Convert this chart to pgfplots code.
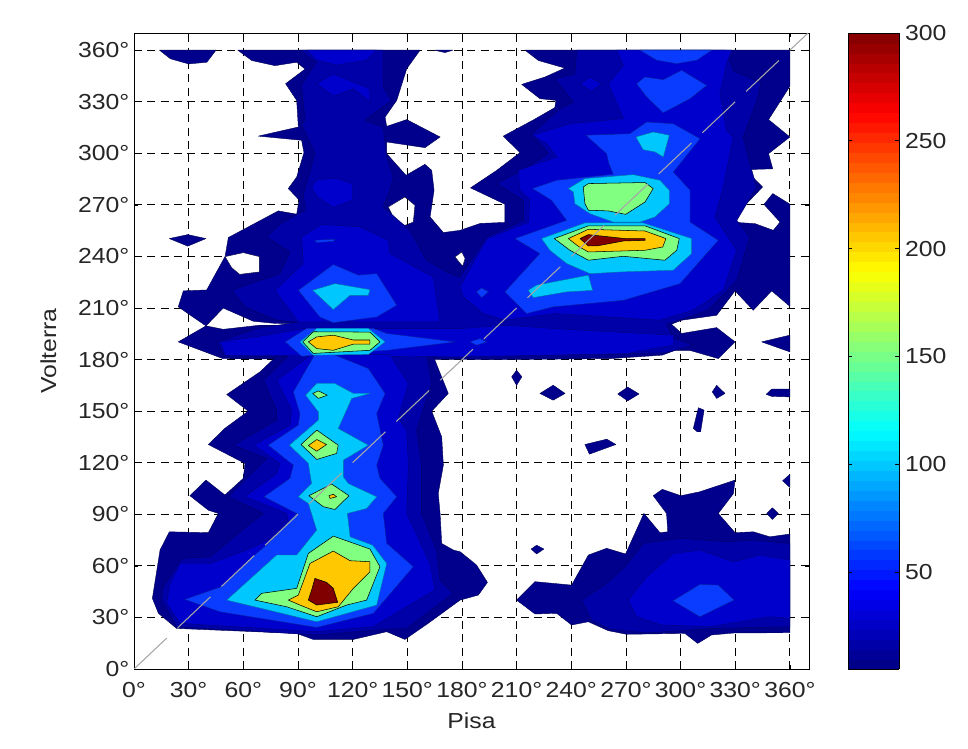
\documentclass[border=0pt]{standalone}
\usepackage{fontspec}
\setmainfont[FakeStretch=1.14]{Liberation Sans}
\usepackage{pgfplots}
\pgfplotsset{compat=1.18}
\definecolor{cA}{HTML}{00008C}
\definecolor{cB}{HTML}{0000A8}
\definecolor{cC}{HTML}{0000CC}
\definecolor{cD}{HTML}{0A3CFF}
\definecolor{cE}{HTML}{00C8FF}
\definecolor{cF}{HTML}{80FF80}
\definecolor{cG}{HTML}{FFC800}
\definecolor{cH}{HTML}{800000}
\pgfplotsset{
 lev/.style={fill=#1,draw=black,line width=0.4pt,line join=round},
 blv/.style={fill=#1,draw=black!40!#1,line width=0.3pt,line join=round},
}
\begin{document}
\begin{tikzpicture}
\path[use as bounding box] (-100.5pt,-60pt) rectangle (625.5pt,501.75pt);
\begin{axis}[
 at={(0pt,0pt)},anchor=south west,
 scale only axis,width=506.25pt,height=477pt,
 xmin=0,xmax=370.5,ymin=0,ymax=370,
 xtick={0,30,...,360},ytick={0,30,...,360},
 xticklabels={0°,30°,60°,90°,120°,150°,180°,210°,240°,270°,300°,330°,360°},
 yticklabels={0°,30°,60°,90°,120°,150°,180°,210°,240°,270°,300°,330°,360°},
 tick align=inside,major tick length=3pt,
 tick style={black,line width=0.5pt},
 grid=major,
 grid style={black,line width=0.6pt,dash pattern=on 6pt off 4pt},
 axis line style={line width=0.6pt},
 tick label style={font=\fontsize{16.3}{18}\selectfont,text=black!85},
 xticklabel style={yshift=-6.5pt},
 label style={font=\fontsize{16.3}{18}\selectfont,text=black!85},
 xlabel={Pisa},ylabel={Volterra},
 xlabel style={at={(axis description cs:0.5,-0.082)},anchor=center},
 ylabel style={at={(axis description cs:-0.127,0.5)},anchor=center},
 unbounded coords=jump,
 colormap/jet,point meta min=5,point meta max=300,
 colorbar,colorbar sampled,
 colorbar style={
  samples=65,
  at={(1.0578,0)},anchor=south west,
  scale only axis,width=38.25pt,height=477pt,
  ytick={50,100,150,200,250,300},
  tick pos=both,yticklabel pos=right,tick align=inside,major tick length=3pt,
  ymin=5,ymax=300,
  tick label style={font=\fontsize{16.3}{18}\selectfont,text=black!85},
  yticklabel style={/pgf/number format/assume math mode=true,xshift=1pt},
  axis line style={line width=0.6pt},
 },
]
% level 1
\addplot[blv=cA] coordinates {(14,360)(20,355)(30,352)(40,353)(45,360)} --cycle;
\addplot[blv=cA] coordinates {(165,360)(170.7,358.6)(175,360)} --cycle;
\addplot[blv=cA] coordinates {(19.4,250.4)(29.5,252.7)(39.5,250.4)(29.5,246)} --cycle;
\addplot[blv=cA] coordinates {(57,360)(64.6,354)(77.4,351)(89.3,353)(93.9,349)(83.2,340.5)(89.3,330.8)(90.2,315.3)(68.2,310)(92,307.6)(93.3,300.4)(89.3,286.2)(84.7,279.5)(90.6,272.9)(89.3,264.6)(79.2,266.5)(51.8,251)(50,240)(39.9,220.5)(27.1,220)(24.3,210.7)(39.5,199.6)(49,210)(55.4,207)(65.5,202.3)(78,201)(89.3,201.2)(90,200)(69,200)(49,197.6)(39.5,199.6)(24.3,190.3)(49,180.5)(200,180)(262,180.6)(290,182.6)(297,185.4)(305,185.4)(320.7,180.6)(329.9,190.3)(319.8,198.6)(300.6,195.2)(295,200.6)(300.6,202.9)(319.8,205.8)(329.9,220)(339.9,208.7)(350,220)(360,211)(360,270.4)(350.6,276.6)(345.8,270.3)(354.6,260)(350.9,255.2)(340.8,259.1)(327.5,260)(335.4,269.8)(345,280.4)(335.4,290.5)(350.6,291)(348.3,299.8)(360,309.5)(348.3,319.6)(360,339)(360,360)(214.6,360)(222,354)(236.5,349.6)(225.6,344.4)(212.8,340.1)(222.8,331.8)(231.6,330.8)(231,326.6)(219.5,319.6)(202.7,310)(211.9,300.4)(199,290)(184.7,279.9)(203.6,270.4)(203.6,259.8)(190,259.2)(179,255.2)(169.8,253.9)(162.5,263)(164.7,278.5)(163.4,290.1)(159.7,293.6)(149.3,287.2)(138.7,299.8)(138.7,306.6)(159.7,303.3)(168,309.5)(149.7,319.6)(138.7,315.7)(137.8,321.1)(144.2,330.8)(149.7,349.2)(157,360)} --cycle;
\addplot[blv=cA] coordinates {(344.5,190.3)(360,194.2)(360,184.5)} --cycle;
\addplot[blv=cA] coordinates {(78.3,182)(69.2,172.9)(50.9,159.7)(62.7,150)(49.9,140)(40.8,130.6)(60.9,119.6)(60,110.9)(49.9,101.2)(39.5,109.9)(30.7,100.8)(40.8,92.4)(46.3,90.5)(40.8,79.3)(19.4,79.8)(14.3,69.2)(10.1,41.1)(13.4,32.4)(23.4,23.6)(89.3,20.7)(98.4,17.2)(120.4,17.2)(138.7,21.7)(148.7,17.2)(161.5,26.6)(179,40.1)(189,43)(194,50.4)(188,60.5)(179,68.2)(175.3,69.2)(168.9,73)(168,90.5)(167,102.1)(169.8,118.6)(168.9,135)(163.4,150)(172.5,160.3)(164.3,182)} --cycle;
\addplot[blv=cA] coordinates {(210,40.1)(220.1,50.8)(240.2,48.8)(249.4,66.3)(259.4,70.2)(269.8,66.9)(279.9,90.5)(288.7,79.3)(293,79.8)(292.3,90.5)(285,100.8)(290,104.5)(300.2,100.8)(310.6,103.1)(329.9,109.9)(329,102)(320.7,90.5)(329.9,79.3)(340,79.8)(349,76.9)(360,78.5)(360,21.1)(329.9,21)(317,19.8)(309.4,14.9)(302.4,20.7)(270.4,20.2)(260.3,22.3)(249.4,27.5)(240.2,25.6)(232,32.4)(220.1,32)} --cycle;
\addplot[blv=cA] coordinates {(207.3,170)(210,173.8)(212.9,170)(210,165)} --cycle;
\addplot[blv=cA] coordinates {(222.8,160.3)(230.1,165.1)(236.6,160.3)(230.1,156.4)} --cycle;
\addplot[blv=cA] coordinates {(265.5,160)(271,164)(277.2,160)(271,156)} --cycle;
\addplot[blv=cA] coordinates {(317.4,161.2)(319.8,165)(324.4,160.3)(319.8,157.4)} --cycle;
\addplot[blv=cA] coordinates {(347,159.8)(350,162.8)(360,162.8)(360,158.3)(350,158.6)} --cycle;
\addplot[blv=cA] coordinates {(307,140)(309.8,152)(312.9,150.6)(311,138)(309.2,138)} --cycle;
\addplot[blv=cA] coordinates {(247.5,130.6)(259.5,133.7)(264.5,130.6)(250,125)} --cycle;
\addplot[blv=cA] coordinates {(218,69.8)(221,72)(225,69.8)(221,66.9)} --cycle;
\addplot[blv=cA] coordinates {(347.3,90.5)(350.4,93.8)(353.7,90.5)(350.4,87)} --cycle;
\addplot[blv=cA] coordinates {(356,109.5)(360,113.2)(360,105.6)} --cycle;
% holes
\addplot[fill=white,draw=black!60!cA,line width=0.3pt] coordinates {(50,239.9)(60,242.2)(68.8,239.9)(68.8,231)(58,229.6)(53.6,233.5)} --cycle;
\addplot[fill=white,draw=black!60!cA,line width=0.3pt] coordinates {(139.6,268.8)(148.7,274.6)(154.2,269.8)(153.3,260)(148.7,258.1)(143.2,261)} --cycle;
\addplot[fill=white,draw=black!60!cA,line width=0.3pt] coordinates {(176.2,239.7)(179.9,242.6)(181.7,238.8)(180.4,234.3)} --cycle;
\addplot[fill=white,draw=black!60!cA,line width=0.3pt] coordinates {(329.8,319.8)(330.8,321)(332,319.8)(330.8,318.6)} --cycle;
% grid pieces that show through the holes
\addplot[black,line width=0.6pt] coordinates {(150,273.5)(150,267)};
\addplot[black,line width=0.6pt] coordinates {(150,263)(150,258.5)};
% level 2
\addplot[blv=cB] coordinates {(91,360)(100,353)(92,340)(93.9,319)(92,316.7)(99.3,300)(95.7,286)(93,276.5)(93.9,266.9)(80.1,259)(72.8,251.3)(85.6,242.6)(80.1,230)(63.7,224.2)(53.6,220.3)(60.9,210.7)(78.3,202.9)(90.2,201.9)(67.3,198)(45.4,190.3)(50,181.6)(260.3,183)(292.3,184)(306.9,188.4)(296,192.7)(292.3,200.6)(315.1,208.7)(330.8,226)(338,251.3)(330.9,261)(341.8,280.4)(338,294.2)(334.4,309.5)(342,331)(344,341)(329,348)(325,360)(243,360)(242,346.3)(231,343.4)(241.1,329.8)(233.8,326)(218.3,311.4)(227.4,299.8)(212.8,290.1)(199,282.4)(213.7,272.7)(213.7,261)(193.6,251.4)(178.9,228.1)(173.4,230)(160.6,237.8)(151.5,255.2)(136.8,268.8)(140.5,278.5)(142.3,286.2)(138.7,297.9)(136.8,315.3)(126.8,319.2)(141.4,330.8)(136.8,338.6)(136.8,350.2)(136.8,360)} --cycle;
\addplot[blv=cB] coordinates {(85.6,183)(71,168)(78.3,150.6)(78.3,144.8)(54.5,130.2)(72.8,122.5)(68.2,117.6)(51.8,100.2)(71,90.5)(58.2,79.8)(41.7,65.3)(26.2,64.3)(16.1,47.9)(15.2,40.1)(23.4,24.6)(100.3,19.8)(138.7,23.1)(149.7,23.6)(175.3,44)(168,51.7)(166.1,69.2)(157.9,90.5)(157.9,118.6)(155.1,139)(163.4,166.1)(160.6,183)} --cycle;
\addplot[blv=cB] coordinates {(245.7,40.1)(259.4,49.8)(269.5,59.5)(279.5,73.1)(299.7,76)(325.3,74)(339.9,75)(360,73)(360,24.6)(317.9,23.6)(281.4,21)(261.3,23)(251,28.5)} --cycle;
% level 3
\addplot[blv=cC] coordinates {(94.8,360)(133.2,360)(127.7,354.2)(111.2,351.3)(100.3,354.2)} --cycle;
\addplot[blv=cC] coordinates {(100.3,340.5)(109.4,346.3)(129.5,337.6)(129.5,329.9)(120.4,337.6)(109.4,333.2)} --cycle;
\addplot[blv=cC] coordinates {(97.5,280.4)(100.3,284.7)(111.2,285.3)(119.8,282.4)(119.8,272.7)(109.4,268.4)(100.3,275)} --cycle;
\addplot[blv=cC] coordinates {(92,251.4)(103,258.7)(124,257.2)(139.6,249.4)(140.5,241.7)(164.3,228.1)(168,201.9)(90.2,201.9)(77.4,220.3)(92.9,235.9)} --cycle;
\addplot[blv=cC] coordinates {(47.5,190.3)(72.8,194.2)(92.9,198)(179,198)(204.5,200)(231,198)(296,194.2)(296,188.4)(270.4,183.5)(179,181.6)(50,182.5)} --cycle;
\addplot[blv=cC] coordinates {(264.9,360)(268.6,351.2)(260.3,340.5)(268.6,320.2)(239.3,317.2)(218.3,310.5)(226.5,305.6)(232,297.9)(210.9,290.1)(211.8,278.5)(217.3,272.7)(216.4,260)(193.6,250.4)(178.9,222.3)(180.8,216.5)(191.7,206.8)(203.6,202.9)(231,206.8)(288.7,202.9)(306.9,208.7)(323.5,220.3)(330.8,243.6)(318.9,263)(323.5,280.4)(328.9,309.5)(325.3,313.4)(321.6,334.7)(325.3,352.2)(328.1,360)} --cycle;
\addplot[blv=cC] coordinates {(244.8,340.5)(250.3,344.4)(256.7,340.5)(251.2,336)} --cycle;
\addplot[blv=cC] coordinates {(97.5,183)(78.3,168)(86.5,150.6)(85.6,141.9)(65.5,130.2)(80.1,119.6)(78.3,113.8)(60.9,100.2)(83.8,90.5)(85.6,80.8)(61.8,69.2)(41.7,61.4)(25.2,61.4)(19.8,49.8)(17.9,38.2)(25.2,26.6)(100.3,21.7)(131.4,24.6)(165.2,45.9)(162.5,61.4)(149.7,90.5)(150.6,118.6)(149.7,139)(145.1,145.7)(150.6,166.1)(140.5,183)} --cycle;
\addplot[blv=cC] coordinates {(271.3,40.1)(281.4,53.7)(296,67.2)(310.6,69.2)(329,62.4)(343.6,66.3)(360,63.4)(360,29.5)(349,30.4)(316.1,24.6)(289.7,25.6)(275.9,30.4)} --cycle;
% level 4
\addplot[blv=cD] coordinates {(99.3,183)(87.5,161.2)(91.1,148.6)(90.2,141.9)(73.7,130.2)(87.5,118.6)(85.6,110.9)(71.4,100.2)(89.3,90.5)(72.8,72.1)(65.5,65.7)(48.1,47.9)(28,40.5)(47.2,33.3)(100.3,24.2)(131.4,32.4)(153.3,59.5)(138.7,73.1)(136.8,90.5)(144.2,100.2)(135,110.9)(133.2,118.6)(136.8,130.2)(133.2,148.6)(137.8,160.3)(128.6,174.8)(109.4,183)} --cycle;
\addplot[blv=cD] coordinates {(295.9,39.7)(310.6,49.2)(320.7,48.8)(329.3,40.1)(310.6,30.4)} --cycle;
\addplot[blv=cD] coordinates {(90.2,220.3)(109.4,235.3)(123.1,229.1)(133.2,230)(144.2,211.6)(133.2,204.8)(109.4,201.5)(102,204.8)} --cycle;
\addplot[blv=cD] coordinates {(99.3,249.4)(110.3,250)(109.4,248.8)(100.3,248.1)} --cycle;
\addplot[blv=cD] coordinates {(83,190.3)(94.8,198.1)(131.4,198.1)(138.7,195.2)(176.2,190.3)(138.7,185.4)(92,182)} --cycle;
\addplot[blv=cD] coordinates {(277.7,360)(317.1,360)(308.9,354.2)(297.8,352.2)(286.9,354.2)} --cycle;
\addplot[blv=cD] coordinates {(275.9,340.5)(280.5,344.4)(290.5,342.8)(300.6,348.3)(314.3,339.5)(305.2,331.8)(290.5,323.6)(281.4,332.8)} --cycle;
\addplot[blv=cD] coordinates {(248.1,310.5)(259.4,299.8)(260.7,294)(263.1,287.8)(232,284.3)(218.8,279.5)(229.2,272.7)(237.5,261)(209.1,250.4)(222.8,241.7)(203.6,219.4)(215.5,206.8)(230.1,210.7)(268.6,214.5)(299.7,224.2)(320.7,249.4)(305.2,260)(305.2,278.5)(296,289.1)(310.7,308.5)(296,317.2)(281.4,318.2)(272.2,311.4)} --cycle;
\addplot[blv=cD] coordinates {(184.4,190.3)(189.9,192.2)(193.6,190.3)(188.1,188.4)} --cycle;
\addplot[blv=cD] coordinates {(188,219.4)(190.8,221.7)(194.6,219.4)(190.8,216.1)} --cycle;
% level 5
\addplot[blv=cE] coordinates {(100.3,166.1)(110.3,166.1)(120.4,160.3)(129.5,160.3)(119.5,157.4)(112.1,139.9)(128.6,130.2)(114.9,121.5)(114.9,111.8)(117.6,107.9)(133.2,100.2)(127.7,93.4)(117.1,90.5)(118.6,76.9)(131,72)(138.7,61.4)(133.2,37.2)(100.3,27.5)(50.9,40.1)(78.3,66.3)(89.3,66.3)(100.3,80.8)(95.7,96.3)(90.2,100.2)(97.5,107.9)(95.7,119.6)(85.3,130.2)(101.2,144.8)(101.2,149.6)(94.2,159.3)} --cycle;
\addplot[blv=cE] coordinates {(98.1,220.3)(110.3,224.2)(129.5,220.7)(128.6,217.4)(118.6,217.4)(109.4,209.1)} --cycle;
\addplot[blv=cE] coordinates {(91.1,190.3)(100.3,198.1)(128.6,198.1)(137.8,190.3)(128.6,183)(98.4,182.6)} --cycle;
\addplot[blv=cE] coordinates {(275.5,309.5)(285,312.4)(293.8,310.5)(290.5,297.9)(286,300.8)(279.5,302.1)} --cycle;
\addplot[blv=cE] coordinates {(238.4,279.5)(247.5,285.3)(274.1,287.6)(288.7,284.3)(293.8,278.5)(293.8,270.7)(286,263)(277.7,260)(263.1,260)(250.3,264.9)(242,270.7)(241.2,277.5)} --cycle;
\addplot[blv=cE] coordinates {(223.7,250.4)(247.5,259.5)(279.5,259.5)(306.1,250.4)(306.1,241.7)(296,232)(266.7,231)(250.3,230)(237.5,235.9)(228.3,243.6)} --cycle;
\addplot[blv=cE] coordinates {(216.4,220.3)(221,223.3)(249.4,229.1)(251.7,220.3)(237.5,219.4)(219.2,216.1)} --cycle;
% level 6
\addplot[lev=cF] coordinates {(98.1,160.3)(101.2,161.8)(106.1,159.3)(101.2,157.4)} --cycle;
\addplot[lev=cF] coordinates {(91.7,130.6)(100.3,139)(112.1,130.2)(111.2,125.4)(100.3,121.9)} --cycle;
\addplot[lev=cF] coordinates {(96,100.8)(108.5,107.6)(118,100.8)(110.3,92.8)(103.9,94.4)} --cycle;
\addplot[lev=cF] coordinates {(66.4,40.1)(70,44)(89.3,46.9)(95.7,67.2)(109.4,77.3)(129.5,69.8)(135,59.5)(127.7,40.1)(116.7,37.2)(100.3,30.4)(83.8,36.2)} --cycle;
\addplot[lev=cF] coordinates {(92.6,190.3)(98.4,196.2)(129.5,196)(135,190.3)(129.5,185.4)(98.4,183.6)} --cycle;
\addplot[lev=cF] coordinates {(246.6,280.4)(249.4,282.4)(280.5,283)(285,279.5)(280.5,271.7)(269.9,264.5)(260.3,266.5)(249.4,266.9)(247.5,270.7)} --cycle;
\addplot[lev=cF] coordinates {(230.7,250.4)(249.4,257.8)(280.5,257.8)(299.3,250.4)(297.9,243.6)(291.4,237.8)(268.6,240.1)(249.4,237.8)(239.3,243.6)} --cycle;
% level 7
\addplot[lev=cG] coordinates {(95.7,130)(100.3,133.5)(105.7,130.6)(100.3,126.7)} --cycle;
\addplot[lev=cG] coordinates {(107,100.8)(109.4,101.7)(111.2,100.2)(107.6,99.2)} --cycle;
\addplot[lev=cG] coordinates {(84.7,40.1)(90.2,43)(96.6,61.4)(109.4,68.6)(118.6,63)(129.5,62.4)(129.5,56.6)(120.4,46.9)(112.1,36.2)(100.3,33.3)(91.1,37.2)} --cycle;
\addplot[lev=cG] coordinates {(95.7,190.3)(100.3,193.2)(109.4,194.2)(120.4,191.4)(129.5,191.4)(129.5,189)(120.4,189)(109.4,185.4)(100.3,186.4)} --cycle;
\addplot[lev=cG] coordinates {(238.4,250.4)(249.4,255.8)(280.5,254.8)(292,250.4)(290.2,245.5)(280.5,243.6)(249.4,242.6)(243.9,245.9)} --cycle;
% level 8
\addplot[lev=cH] coordinates {(99.3,52.7)(105.7,50.4)(109.4,46.9)(111.8,38.8)(100.3,37.2)(95.7,40.1)(97.5,45.9)} --cycle;
\addplot[lev=cH] coordinates {(244.8,250.4)(249.4,252.7)(269.5,250.4)(280.5,250.4)(280.5,249.4)(268.6,249)(253.9,246.1)(249.4,246.1)} --cycle;
% diagonal
\addplot[color=black!35,line width=0.8pt] table[row sep=\\] {
x y\\ 0 0\\ 18 18\\ nan nan\\ 24 24\\ 42 42\\ nan nan\\ 48 48\\ 66 66\\ nan nan\\ 72 72\\ 90 90\\ nan nan\\ 96 96\\ 114 114\\ nan nan\\ 120 120\\ 138 138\\ nan nan\\ 144 144\\ 162 162\\ nan nan\\ 168 168\\ 186 186\\ nan nan\\ 192 192\\ 210 210\\ nan nan\\ 216 216\\ 234 234\\ nan nan\\ 240 240\\ 258 258\\ nan nan\\ 264 264\\ 282 282\\ nan nan\\ 288 288\\ 306 306\\ nan nan\\ 312 312\\ 330 330\\ nan nan\\ 336 336\\ 354 354\\ nan nan\\ 360 360\\ 370 370\\
};
\end{axis}
\end{tikzpicture}
\end{document}
